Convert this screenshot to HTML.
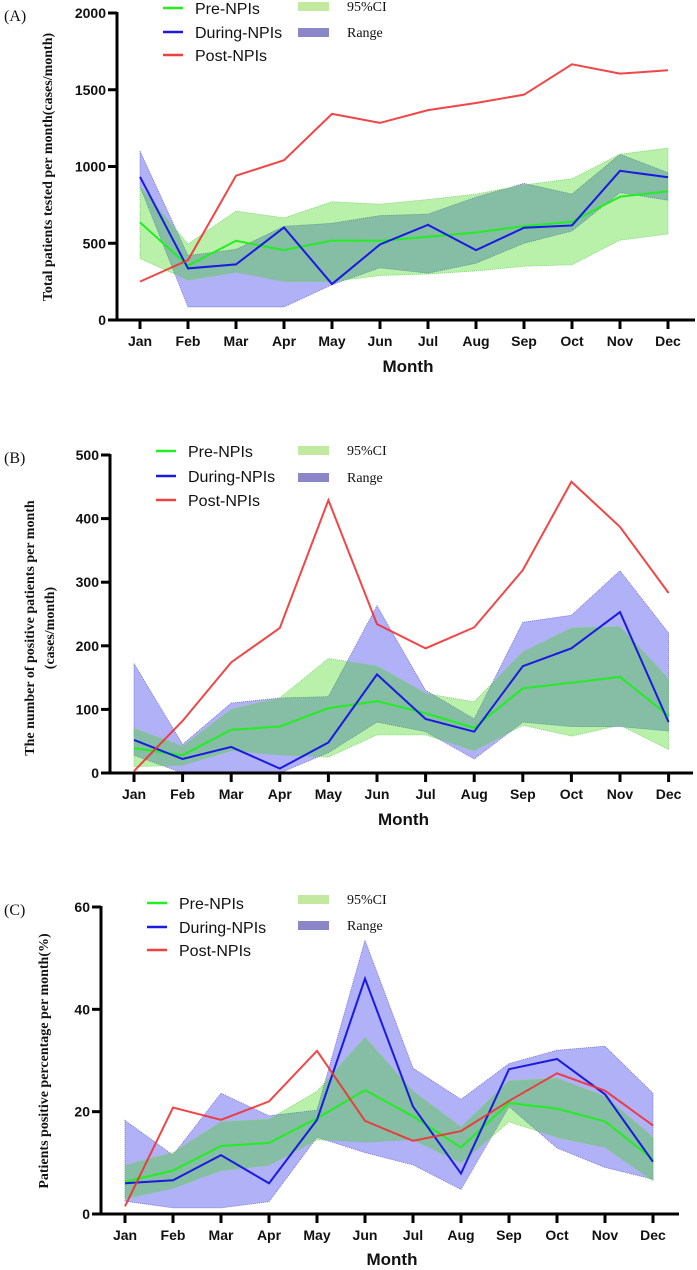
<!DOCTYPE html>
<html><head><meta charset="utf-8">
<style>
html,body{margin:0;padding:0;background:#fff;}
svg{display:block;}
.tk{font-family:"Liberation Sans",sans-serif;font-weight:bold;font-size:14px;fill:#111;}
.lg{font-family:"Liberation Sans",sans-serif;font-size:16px;fill:#111;}
.lg2{font-family:"Liberation Serif",serif;font-size:14px;fill:#111;}
.yt{font-family:"Liberation Serif",serif;font-weight:bold;font-size:14px;fill:#111;}
.mt{font-family:"Liberation Sans",sans-serif;font-weight:bold;font-size:17px;fill:#111;}
.pl{font-family:"Liberation Serif",serif;font-size:16px;fill:#111;}
</style></head>
<body>
<svg id="chart" width="697" height="1270" xmlns="http://www.w3.org/2000/svg"></svg>
<script>
const months = ["Jan","Feb","Mar","Apr","May","Jun","Jul","Aug","Sep","Oct","Nov","Dec"];

// Panel A
const aTicks = [0,500,1000,1500,2000];
const aPre = [636,354,516,455,518,516,542,570,612,640,803,839];
const aDuring = [933,336,362,603,234,492,620,455,601,616,972,930];
const aPost = [250,390,940,1041,1343,1284,1367,1414,1468,1666,1605,1627];
const aCiHi = [870,495,710,665,770,755,785,820,880,920,1080,1120];
const aCiLo = [400,260,310,250,250,290,300,320,350,360,520,560];
const aRangeHi = [1100,420,460,610,630,680,690,800,890,820,1080,960];
const aRangeLo = [870,85,85,85,230,340,305,370,500,580,830,780];

// Panel B
const bTicks = [0,100,200,300,400,500];
const bPre = [39,28,68,73,102,113,94,71,133,142,151,90];
const bDuring = [52,22,41,7,48,155,85,65,168,196,253,80];
const bPost = [3,82,174,228,429,234,196,229,319,458,387,283];
const bCiHi = [70,42,100,118,180,168,125,112,190,228,230,148];
const bCiLo = [10,12,35,28,25,60,60,35,75,58,75,37];
const bRangeHi = [172,45,110,118,120,263,130,85,237,248,318,220];
const bRangeLo = [28,0,0,0,32,80,65,22,80,73,73,66];

// Panel C
const cTicks = [0,20,40,60];
const cPre = [6.3,8.5,13.3,13.9,18.7,24.2,19.1,13,21.7,20.6,18.1,10.7];
const cDuring = [6,6.6,11.5,6,18.4,46,21,7.9,28.3,30.3,23.4,10.2];
const cPost = [1.5,20.8,18.4,22,31.9,18.2,14.3,16.2,22.1,27.5,24.1,17.3];
const cCiHi = [9.5,12,18,18.5,24,34.5,24,17,26,26.5,23,15];
const cCiLo = [3,5,8.5,9.5,14.5,14,14.5,10,18,15,13,6.5];
const cRangeHi = [18.3,11.5,23.6,19.2,20.3,53.5,28.5,22.4,29.4,32,32.8,23.6];
const cRangeLo = [2.5,1.2,1.2,2.4,15,12,9.6,4.8,21,12.9,9.1,6.8];

const NS="http://www.w3.org/2000/svg";
const svg=document.getElementById('chart');
function mk(tag,attrs,parent,text){const e=document.createElementNS(NS,tag);for(const k in attrs)e.setAttribute(k,attrs[k]);if(text!==undefined)e.textContent=text;(parent||svg).appendChild(e);return e;}

function panel(cfg){
  const g=mk('g',{});
  
  
  const max=cfg.ticks[cfg.ticks.length-1];
  const yS=v=>cfg.y0-(v/max)*(cfg.y0-cfg.yTop);
  const xS=i=>cfg.xJan+i*cfg.step;
  const area=(hi,lo)=>{let d='';hi.forEach((v,i)=>{d+=(i?'L':'M')+xS(i)+','+yS(v)});for(let i=lo.length-1;i>=0;i--)d+='L'+xS(i)+','+yS(lo[i]);return d+'Z';};
  const line=arr=>arr.map((v,i)=>(i?'L':'M')+xS(i)+','+yS(v)).join('');
  const r=mk('path',{d:area(cfg.rHi,cfg.rLo),fill:'rgba(100,100,240,0.5)',stroke:'#6a6ad0','stroke-width':0.8,'stroke-dasharray':'1,1'},g);
  
  
  const c=mk('path',{d:area(cfg.ciHi,cfg.ciLo),fill:'rgba(55,212,12,0.35)',stroke:'#7ad070','stroke-width':0.8,'stroke-dasharray':'1,1'},g);
  
  
  const lp=mk('path',{d:line(cfg.pre),fill:'none',stroke:'#22ee22','stroke-width':2},g);
  
  
  const ld=mk('path',{d:line(cfg.during),fill:'none',stroke:'#1a1ae0','stroke-width':2},g);
  
  
  const lo=mk('path',{d:line(cfg.post),fill:'none',stroke:'rgba(240,50,50,0.9)','stroke-width':2},g);
  
  
  const ya=mk('line',{x1:cfg.ax,y1:cfg.yTop-1,x2:cfg.ax,y2:cfg.y0+1.5,stroke:'#000','stroke-width':3},g);
  
  
  const xa=mk('line',{x1:cfg.ax-1.5,y1:cfg.y0,x2:cfg.xEnd,y2:cfg.y0,stroke:'#000','stroke-width':3},g);
  
  
  cfg.ticks.forEach(t=>{
    mk('line',{x1:cfg.ax-9,y1:yS(t),x2:cfg.ax,y2:yS(t),stroke:'#000','stroke-width':3},g);
    const tl=mk('text',{x:cfg.ax-11,y:yS(t)+5,'text-anchor':'end',class:'tk'},g,String(t));
    
    
  });
  months.forEach((m,i)=>{
    mk('line',{x1:xS(i),y1:cfg.y0,x2:xS(i),y2:cfg.y0+9,stroke:'#000','stroke-width':3},g);
    const tl=mk('text',{x:xS(i),y:cfg.y0+26,'text-anchor':'middle',class:'tk'},g,m);
    
    
  });
  const mt=mk('text',{x:(cfg.ax+cfg.xEnd)/2+2,y:cfg.monthY,'text-anchor':'middle',class:'mt'},g,'Month');
  
  
  const pl=mk('text',{x:4,y:cfg.yTop+8,class:'pl'},g,cfg.label);
  
  
  cfg.title.forEach((tt,k)=>{
    const t=mk('text',{x:0,y:0,'text-anchor':'middle',class:'yt',transform:'translate('+cfg.titleX[k]+','+cfg.titleY+') rotate(-90)'},g,tt);
    
    
  });
  const L=cfg.leg;
  [['Pre-NPIs','#22ee22'],['During-NPIs','#1a1ae0'],['Post-NPIs','#f04040']].forEach((e,k)=>{
    const y=L.ys[k];
    const lg=mk('g',{},g);
    
    
    mk('line',{x1:L.lx,y1:y,x2:L.lx+20,y2:y,stroke:e[1],'stroke-width':2.5},lg);
    mk('text',{x:L.lx+32,y:y+6,class:'lg'},lg,e[0]);
  });
  [['95%CI','#c3e8a0',L.ci],['Range','#8a86c8',L.rg]].forEach(e=>{
    const lg=mk('g',{},g);
    
    
    mk('rect',{x:298,y:e[2],width:31,height:9,fill:e[1]},lg);
    mk('text',{x:347,y:e[2]+9,class:'lg2'},lg,e[0]);
  });
}

panel({id:'a',label:'(A)',ticks:aTicks,y0:320,yTop:13,ax:117,xJan:140,step:48,xEnd:695,monthY:372,
  pre:aPre,during:aDuring,post:aPost,ciHi:aCiHi,ciLo:aCiLo,rHi:aRangeHi,rLo:aRangeLo,
  title:['Total patients tested per month(cases/month)'],titleX:[52],titleY:167,
  leg:{lx:163,ys:[8,32,55],ci:2,rg:28}});
panel({id:'b',label:'(B)',ticks:bTicks,y0:773,yTop:455,ax:110,xJan:134,step:48.6,xEnd:693,monthY:825,
  pre:bPre,during:bDuring,post:bPost,ciHi:bCiHi,ciLo:bCiLo,rHi:bRangeHi,rLo:bRangeLo,
  title:['The number of positive patients per month','(cases/month)'],titleX:[34,54],titleY:628,
  leg:{lx:156,ys:[451,476,500],ci:446,rg:473}});
panel({id:'c',label:'(C)',ticks:cTicks,y0:1214,yTop:907,ax:101,xJan:125,step:48,xEnd:679,monthY:1265,
  pre:cPre,during:cDuring,post:cPost,ciHi:cCiHi,ciLo:cCiLo,rHi:cRangeHi,rLo:cRangeLo,
  title:['Patients positive percentage per month(%)'],titleX:[48],titleY:1061,
  leg:{lx:147,ys:[903,927,950],ci:895,rg:921}});
</script>
</body></html>
